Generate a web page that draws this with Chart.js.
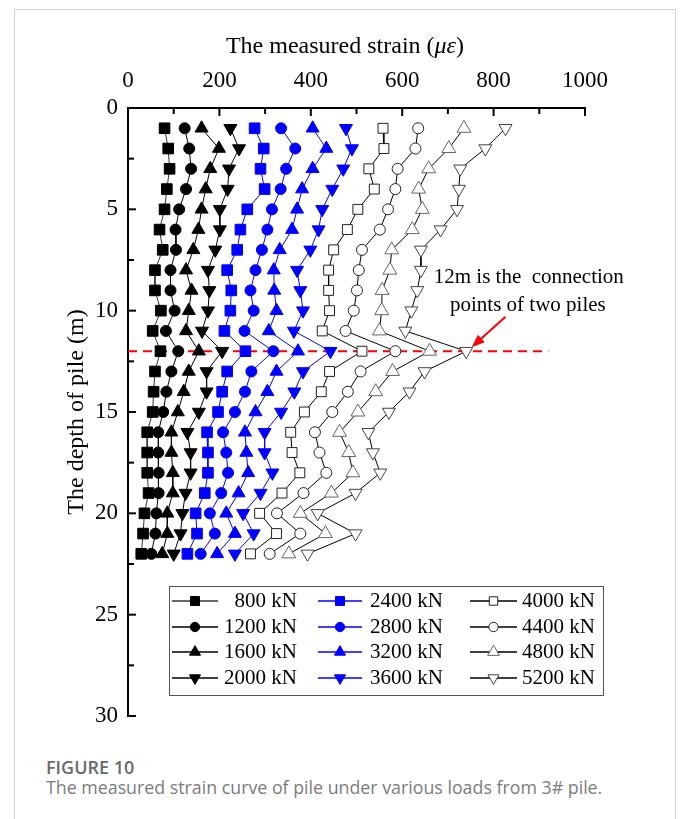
<!DOCTYPE html>
<html>
<head>
<meta charset="utf-8">
<script src="https://cdn.jsdelivr.net/npm/chart.js@4.4.0/dist/chart.umd.min.js"></script>
<style>
  body { margin: 0; background: #fff; }
  #wrap { position: relative; width: 682px; height: 819px; overflow: hidden; }
  #frame { position: absolute; left: 14px; top: 9px; width: 660px; height: 900px; border: 1px solid #d4d4d4; }
  #chart { position: absolute; left: 0; top: 0; }
  .fig { position: absolute; left: 46px; font-family: "Open Sans", sans-serif; white-space: nowrap; }
  #figno { top: 755px; font-size: 18px; font-weight: 600; color: #6a6a6a; line-height: 24px; }
  #figcap { top: 775px; font-size: 17.8px; color: #7c7c7c; line-height: 24px; }
</style>
</head>
<body>
<div id="wrap">
  <div id="frame"></div>
  <canvas id="chart" width="682" height="740"></canvas>
  <div class="fig" id="figno">FIGURE 10</div>
  <div class="fig" id="figcap">The measured strain curve of pile under various loads from 3# pile.</div>
</div>
<script>
// depth of each gauge (m)
const depths = [1, 2, 3, 4, 5, 6, 7, 8, 9, 10, 11, 12, 13, 14, 15, 16, 17, 18, 19, 20, 21, 22];

// measured strain (micro-strain) per load step
const s800  = [80, 88, 91, 85, 80, 69, 76, 59, 59, 72, 54, 71, 59, 56, 54, 42, 42, 42, 45, 36, 33, 29];
const s1200 = [124, 134, 138, 127, 112, 104, 105, 93, 93, 102, 83, 110, 95, 84, 77, 66, 66, 67, 67, 62, 60, 51];
const s1600 = [161, 199, 180, 170, 161, 154, 143, 127, 139, 133, 127, 155, 133, 122, 109, 95, 95, 98, 98, 86, 86, 75];
const s2000 = [224, 243, 221, 218, 201, 201, 191, 175, 178, 175, 162, 206, 172, 172, 155, 130, 137, 137, 126, 119, 115, 100];
const s2400 = [277, 297, 290, 299, 261, 246, 239, 217, 226, 224, 211, 257, 217, 206, 197, 173, 175, 175, 168, 148, 151, 130];
const s2800 = [335, 366, 346, 334, 315, 305, 293, 279, 268, 275, 255, 318, 270, 256, 234, 208, 215, 219, 204, 179, 190, 159];
const s3200 = [404, 434, 404, 381, 370, 359, 332, 319, 320, 325, 308, 372, 325, 305, 279, 256, 259, 263, 242, 215, 234, 195];
const s3600 = [477, 490, 471, 447, 425, 417, 399, 370, 377, 383, 363, 443, 383, 364, 335, 299, 299, 316, 290, 252, 275, 234];
const s4000 = [558, 560, 527, 539, 503, 480, 450, 439, 439, 441, 425, 512, 441, 423, 386, 356, 359, 376, 337, 288, 325, 268];
const s4400 = [635, 629, 590, 585, 569, 551, 512, 505, 501, 494, 476, 585, 509, 481, 447, 409, 419, 434, 384, 326, 377, 310];
const s4800 = [735, 702, 658, 636, 644, 622, 577, 573, 556, 555, 550, 660, 579, 542, 503, 463, 483, 492, 445, 377, 432, 352];
const s5200 = [826, 782, 727, 724, 720, 684, 641, 641, 633, 620, 607, 740, 649, 616, 571, 526, 536, 552, 498, 415, 498, 393];

const loads = ['800 kN', '1200 kN', '1600 kN', '2000 kN', '2400 kN', '2800 kN',
               '3200 kN', '3600 kN', '4000 kN', '4400 kN', '4800 kN', '5200 kN'];
const series = [s800, s1200, s1600, s2000, s2400, s2800, s3200, s3600, s4000, s4400, s4800, s5200];

const xTicks = [0, 200, 400, 600, 800, 1000];
const yTicks = [0, 5, 10, 15, 20, 25, 30];

// connection of the two piles
const jointDepth = 12;
const jointLineEnd = 920;

const SERIF = '"Liberation Serif", "Times New Roman", serif';

// marker look for each load step
const markers = [
  { style: 'rect', r: 7.5, fill: '#000', edge: '#000', line: '#333', rot: 0 },
  { style: 'circle', r: 5.5, fill: '#000', edge: '#000', line: '#000', rot: 0 },
  { style: 'triangle', r: 7.5, fill: '#000', edge: '#000', line: '#000', rot: 0 },
  { style: 'triangle', r: 7.5, fill: '#000', edge: '#000', line: '#000', rot: 180 },
  { style: 'rect', r: 7.5, fill: '#0000ff', edge: '#0000ff', line: '#0000ff', rot: 0 },
  { style: 'circle', r: 5.5, fill: '#0000ff', edge: '#0000ff', line: '#0000ff', rot: 0 },
  { style: 'triangle', r: 7.5, fill: '#0000ff', edge: '#0000ff', line: '#0000ff', rot: 0 },
  { style: 'triangle', r: 7.5, fill: '#0000ff', edge: '#0000ff', line: '#0000ff', rot: 180 },
  { style: 'rect', r: 7, fill: '#fff', edge: '#222', line: '#000', rot: 0 },
  { style: 'circle', r: 5.5, fill: '#fff', edge: '#222', line: '#000', rot: 0 },
  { style: 'triangle', r: 8, fill: '#fff', edge: '#666', line: '#000', rot: 0 },
  { style: 'triangle', r: 7.5, fill: '#fff', edge: '#444', line: '#000', rot: 180 }
];

const datasets = series.map(function (vals, i) {
  const m = markers[i];
  return {
    label: loads[i],
    data: vals.map(function (v, k) { return { x: v, y: depths[k] }; }),
    borderColor: m.line,
    borderWidth: 1,
    pointStyle: m.style,
    pointRadius: m.r,
    pointRotation: m.rot,
    pointBackgroundColor: m.fill,
    pointBorderColor: m.edge,
    pointBorderWidth: 1,
    tension: 0
  };
});

datasets.push({
  label: 'joint',
  data: [{ x: 0, y: jointDepth }, { x: jointLineEnd, y: jointDepth }],
  borderColor: '#ff0000',
  borderWidth: 2,
  borderDash: [9, 6],
  pointRadius: 0,
  order: 20
});

// inward tick marks, like the original plot
const tickMarks = {
  id: 'tickMarks',
  afterDraw(chart) {
    const ctx = chart.ctx, a = chart.chartArea;
    const xs = chart.scales.x, ys = chart.scales.y;
    ctx.save();
    ctx.strokeStyle = '#000';
    ctx.lineWidth = 2;
    for (let v = 0; v <= 1000; v += 100) {
      const px = xs.getPixelForValue(v);
      const len = v % 200 === 0 ? 8 : 6;
      ctx.beginPath(); ctx.moveTo(px, a.top); ctx.lineTo(px, a.top + len); ctx.stroke();
    }
    for (let v = 0; v <= 30; v += 2.5) {
      const py = ys.getPixelForValue(v);
      const len = v % 5 === 0 ? 8 : 6;
      ctx.beginPath(); ctx.moveTo(a.left, py); ctx.lineTo(a.left + len, py); ctx.stroke();
    }
    ctx.restore();
  }
};

// top axis title with italic mu-epsilon
const topTitle = {
  id: 'topTitle',
  afterDraw(chart) {
    const ctx = chart.ctx;
    const parts = [['The measured strain (', ''], ['με', 'italic '], [')', '']];
    ctx.save();
    ctx.fillStyle = '#000';
    ctx.textBaseline = 'middle';
    let total = 0;
    parts.forEach(function (p) { ctx.font = p[1] + '24px ' + SERIF; total += ctx.measureText(p[0]).width; });
    let x = 345 - total / 2;
    parts.forEach(function (p) {
      ctx.font = p[1] + '24px ' + SERIF;
      ctx.fillText(p[0], x, 47);
      x += ctx.measureText(p[0]).width;
    });
    ctx.restore();
  }
};

// note and arrow pointing at the joint
const jointNote = {
  id: 'jointNote',
  afterDraw(chart) {
    const ctx = chart.ctx, xs = chart.scales.x, ys = chart.scales.y;
    ctx.save();
    ctx.fillStyle = '#000';
    ctx.font = '21px ' + SERIF;
    ctx.textAlign = 'center';
    ctx.textBaseline = 'middle';
    ctx.fillText('12m is the  connection', xs.getPixelForValue(877), ys.getPixelForValue(8.35));
    ctx.fillText('points of two piles', xs.getPixelForValue(875), ys.getPixelForValue(9.75));

    const x0 = xs.getPixelForValue(826), y0 = ys.getPixelForValue(10.3);
    const x1 = xs.getPixelForValue(752), y1 = ys.getPixelForValue(11.8);
    const ang = Math.atan2(y1 - y0, x1 - x0);
    ctx.strokeStyle = '#ff0000';
    ctx.fillStyle = '#ff0000';
    ctx.lineWidth = 2;
    ctx.beginPath();
    ctx.moveTo(x0, y0);
    ctx.lineTo(x1 - 10 * Math.cos(ang), y1 - 10 * Math.sin(ang));
    ctx.stroke();
    ctx.beginPath();
    ctx.moveTo(x1, y1);
    ctx.lineTo(x1 - 13 * Math.cos(ang) + 5 * Math.sin(ang), y1 - 13 * Math.sin(ang) - 5 * Math.cos(ang));
    ctx.lineTo(x1 - 13 * Math.cos(ang) - 5 * Math.sin(ang), y1 - 13 * Math.sin(ang) + 5 * Math.cos(ang));
    ctx.closePath();
    ctx.fill();
    ctx.restore();
  }
};

// legend box: 3 columns x 4 rows inside the plot
const boxLegend = {
  id: 'boxLegend',
  afterDraw(chart) {
    const ctx = chart.ctx;
    const rows = [601, 627, 652, 678];
    const lineX = [[172, 218], [318, 362], [470, 517]];
    const textRight = [297, 443, 595];
    ctx.save();
    ctx.strokeStyle = '#555';
    ctx.lineWidth = 1;
    ctx.strokeRect(169.5, 586.5, 434, 109);
    ctx.font = '21px ' + SERIF;
    ctx.textAlign = 'right';
    ctx.textBaseline = 'middle';
    for (let i = 0; i < loads.length; i++) {
      const col = Math.floor(i / 4), row = i % 4;
      const y = rows[row];
      const m = markers[i];
      ctx.strokeStyle = m.line;
      ctx.lineWidth = 1.5;
      ctx.beginPath(); ctx.moveTo(lineX[col][0], y); ctx.lineTo(lineX[col][1], y); ctx.stroke();
      ctx.fillStyle = m.fill;
      ctx.strokeStyle = m.edge;
      ctx.lineWidth = 1;
      Chart.helpers.drawPoint(ctx, { pointStyle: m.style, radius: m.r * 0.85, rotation: m.rot, borderWidth: 1 },
        (lineX[col][0] + lineX[col][1]) / 2, y);
      ctx.fillStyle = '#000';
      ctx.fillText(loads[i], textRight[col], y);
    }
    ctx.restore();
  }
};

new Chart(document.getElementById('chart'), {
  type: 'line',
  data: { datasets: datasets },
  options: {
    responsive: false,
    animation: false,
    layout: { padding: { left: 0, top: 0, right: 97, bottom: 24 } },
    plugins: { legend: { display: false }, tooltip: { enabled: false } },
    scales: {
      x: {
        type: 'linear',
        position: 'top',
        min: 0,
        max: 1000,
        afterBuildTicks: function (s) { s.ticks = xTicks.map(function (v) { return { value: v }; }); },
        afterFit: function (s) { s.height = 108; },
        ticks: {
          font: { family: SERIF, size: 23 }, color: '#000', padding: 13, maxRotation: 0,
          callback: function (v) { return String(v); }
        },
        grid: { display: false, drawTicks: false },
        border: { color: '#000', width: 2 }
      },
      y: {
        type: 'linear',
        reverse: true,
        min: 0,
        max: 30,
        afterBuildTicks: function (s) { s.ticks = yTicks.map(function (v) { return { value: v }; }); },
        afterFit: function (s) { s.width = 128; },
        ticks: {
          font: { family: SERIF, size: 23 }, color: '#000', padding: 10,
          callback: function (v) { return String(v); }
        },
        grid: { display: false, drawTicks: false },
        border: { color: '#000', width: 2 },
        title: {
          display: true,
          text: 'The depth of pile (m)',
          font: { family: SERIF, size: 24 },
          color: '#000',
          padding: { top: 62, bottom: 0 }
        }
      }
    }
  },
  plugins: [tickMarks, topTitle, jointNote, boxLegend]
});
</script>
</body>
</html>
